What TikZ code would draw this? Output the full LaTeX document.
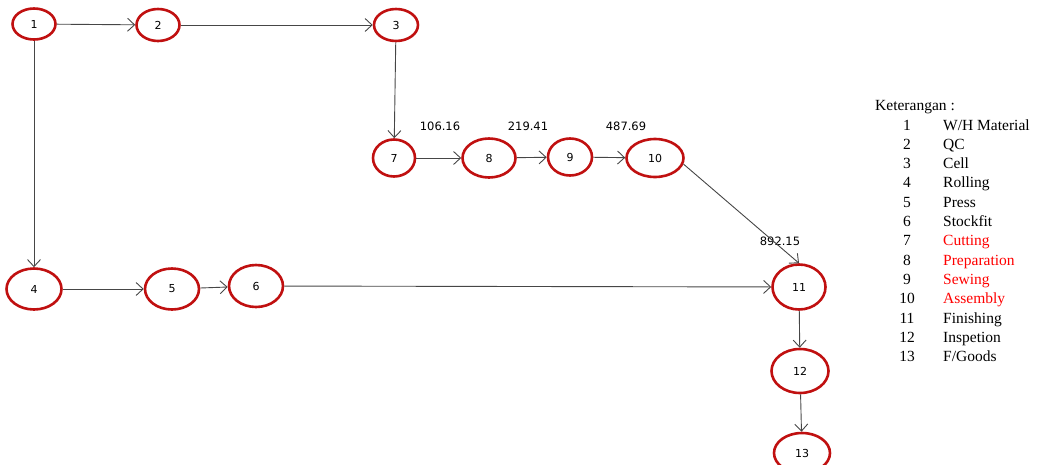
\documentclass[tikz,border=0pt]{standalone}
\usepackage{fontspec}
\setmainfont{Liberation Serif}
\newfontfamily\nodefont{DejaVu Sans}
\usetikzlibrary{shapes.geometric,arrows.meta}
\definecolor{nodered}{RGB}{192,16,16}
\definecolor{linegray}{RGB}{70,70,70}
\definecolor{legred}{RGB}{255,0,0}
\tikzset{
  stnode/.style={ellipse, draw=nodered, line width=2.6pt, inner sep=0pt,
    font=\nodefont\fontsize{11}{13}\selectfont},
  conn/.style={draw=linegray, line width=0.9pt, -{Straight Barb[length=7pt,width=13pt,line width=0.9pt]}},
  vallab/.style={font=\nodefont\fontsize{11.5}{13}\selectfont, inner sep=0pt},
  legtxt/.style={font=\fontsize{15.5}{18}\selectfont, inner sep=0pt, anchor=base west},
  legnum/.style={font=\fontsize{15.5}{18}\selectfont, inner sep=0pt, anchor=base},
}
\begin{document}
\begin{tikzpicture}[x=1pt,y=-1pt]
\useasboundingbox (0,0) rectangle (1042,464);
\node[stnode, minimum width=43pt, minimum height=31pt] (n1) at (34,24) {1};
\node[stnode, minimum width=43pt, minimum height=32pt] (n2) at (158,25) {2};
\node[stnode, minimum width=44pt, minimum height=32pt] (n3) at (396,25) {3};
\node[stnode, minimum width=55pt, minimum height=41pt] (n4) at (34,289) {4};
\node[stnode, minimum width=54pt, minimum height=41pt] (n5) at (172,289) {5};
\node[stnode, minimum width=54pt, minimum height=42pt] (n6) at (256,286) {6};
\node[stnode, minimum width=42pt, minimum height=37pt] (n7) at (394,158) {7};
\node[stnode, minimum width=53pt, minimum height=39pt] (n8) at (489,158) {8};
\node[stnode, minimum width=44pt, minimum height=37pt] (n9) at (570,157) {9};
\node[stnode, minimum width=57pt, minimum height=38pt] (n10) at (655,158) {10};
\node[stnode, minimum width=53pt, minimum height=45pt] (n11) at (799,287) {11};
\node[stnode, minimum width=57pt, minimum height=44pt] (n12) at (800,371) {12};
\node[stnode, minimum width=56pt, minimum height=40pt] (n13) at (802,453) {13};

\node[vallab] (v1) at (440,126) {106.16};
\node[vallab] (v2) at (528,126) {219.41};
\node[vallab] (v3) at (626,126) {487.69};
\node[vallab] (v4) at (780,241) {892.15};

\draw[conn] (n1) -- (n2);
\draw[conn] (n2) -- (n3);
\draw[conn] (n1) -- (n4);
\draw[conn] (n3) -- (n7);
\draw[conn] (n7) -- (n8);
\draw[conn] (n8) -- (n9);
\draw[conn] (n9) -- (n10);
\draw[conn] (n10.-12) -- (n11.north);
\draw[conn] (n4) -- (n5);
\draw[conn] (n5) -- (n6);
\draw[conn] (n6) -- (n11);
\draw[conn] (n11) -- (n12);
\draw[conn] (n12) -- (n13);

\node[legtxt] (kt) at (875,110) {Keterangan :};
\foreach \i/\t/\c [count=\k from 0] in {1/W\slash H Material/black,2/QC/black,3/Cell/black,4/Rolling/black,5/Press/black,6/Stockfit/black,7/Cutting/legred,8/Preparation/legred,9/Sewing/legred,10/Assembly/legred,11/Finishing/black,12/Inspetion/black,13/F\slash Goods/black}{
  \node[legnum] (ln\i) at (907,{130+19.33*\k}) {\i};
  \node[legtxt, text=\c] (lt\i) at (943,{130+19.33*\k}) {\t};
}
\end{tikzpicture}
\end{document}
